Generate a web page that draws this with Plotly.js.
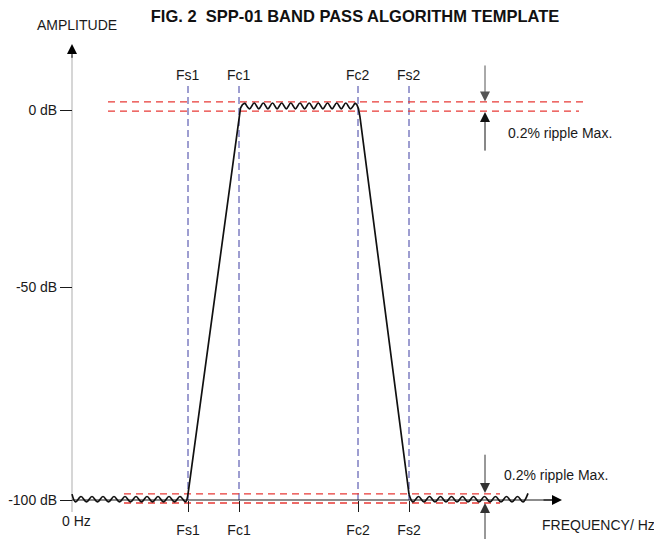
<!DOCTYPE html>
<html>
<head>
<meta charset="utf-8">
<script src="https://cdn.plot.ly/plotly-3.0.1.min.js"></script>
<style>html,body{margin:0;padding:0;background:#fff;}#chart{width:654px;height:539px;}</style>
</head>
<body>
<div id="chart"></div>
<script>
// ---- Data (schematic frequency units, amplitude in dB) ----
const fLabels = ['Fs1', 'Fc1', 'Fc2', 'Fs2'];
const fValues = [11.6, 16.7, 28.6, 33.7];
const yTickPos = [0, -45.4, -100];
const yTickText = ['0 dB', '-50 dB', '-100 dB'];

// pass-band / stop-band tolerance (ripple) limits
const passUpper = 2.1, passLower = -0.3;
const stopUpper = -98.45, stopLower = -100.77;

// response curve pieces
const stopLeftX = [0.0, 0.35, 0.9, 1.45, 2.0, 2.55, 3.1, 3.65, 4.2, 4.75, 5.3, 5.85, 6.4, 6.95, 7.5, 8.05, 8.6, 9.15, 9.7, 10.25, 10.8, 11.35, 11.6];
const stopLeftY = [-98.5, -100.5, -99.1, -100.5, -99.1, -100.5, -99.1, -100.5, -99.1, -100.5, -99.1, -100.5, -99.1, -100.5, -99.1, -100.5, -99.1, -100.5, -99.1, -100.5, -99.1, -100.5, -98.5];

const riseX = [11.6, 16.7, 16.85, 17.05, 17.3];
const riseY = [-98.5, -1.5, 0.5, 1.4, 1.8];

const passX = [17.30, 17.76, 18.22, 18.68, 19.13, 19.59, 20.05, 20.51, 20.97, 21.43, 21.88, 22.34, 22.80, 23.26, 23.72, 24.18, 24.63, 25.09, 25.55, 26.01, 26.47, 26.93, 27.38, 27.84, 28.30];
const passY = [1.8, 0.3, 1.8, 0.3, 1.8, 0.3, 1.8, 0.3, 1.8, 0.3, 1.8, 0.3, 1.8, 0.3, 1.8, 0.3, 1.8, 0.3, 1.8, 0.3, 1.8, 0.3, 1.8, 0.3, 1.8];

const fallX = [28.3, 28.5, 28.65, 28.8, 33.7];
const fallY = [1.8, 1.3, 0.3, -1.8, -98.5];

const stopRightX = [33.7, 34.1, 34.65, 35.2, 35.75, 36.3, 36.85, 37.4, 37.95, 38.5, 39.05, 39.6, 40.15, 40.7, 41.25, 41.8, 42.35, 42.9, 43.45, 44.0, 44.55, 45.1, 45.6];
const stopRightY = [-98.5, -100.5, -99.1, -100.5, -99.1, -100.5, -99.1, -100.5, -99.1, -100.5, -99.1, -100.5, -99.1, -100.5, -99.1, -100.5, -99.1, -100.5, -99.1, -100.5, -99.1, -100.5, -98.3];

const title = 'FIG. 2\u00a0 SPP-01 BAND PASS ALGORITHM TEMPLATE';
const rippleText = '0.2% ripple Max.';

// ---- Drawing ----
const FONT = 'Liberation Sans, Arial, sans-serif';
const INK = '#1a1a1a';
const RED = '#e83a36';
const BLUE = '#3c3ca2';

function curve(x, y, shape) {
  return {x: x, y: y, type: 'scatter', mode: 'lines', hoverinfo: 'skip',
    line: {color: '#111', width: 1.7, shape: shape}};
}

const traces = [
  // y axis line (light grey) and x axis line
  {x: [0, 0], y: [-103.1, 14.0], type: 'scatter', mode: 'lines', hoverinfo: 'skip', line: {color: '#d6d6d6', width: 2}},
  {x: [0, 48], y: [-100, -100], type: 'scatter', mode: 'lines', hoverinfo: 'skip', line: {color: INK, width: 1.2}},
  curve(stopLeftX, stopLeftY, 'spline'),
  curve(riseX, riseY, 'linear'),
  curve(passX, passY, 'spline'),
  curve(fallX, fallY, 'linear'),
  curve(stopRightX, stopRightY, 'spline')
];

const shapes = [];
fValues.forEach(function (f) {
  shapes.push({type: 'line', xref: 'x', yref: 'y', x0: f, x1: f, y0: -100, y1: 6.4, layer: 'below',
    line: {color: BLUE, width: 1, dash: '7px,4px'}});
});
[passUpper, passLower].forEach(function (v, i) {
  shapes.push({type: 'line', xref: 'x', yref: 'y', x0: 3.6, x1: i === 0 ? 51.1 : 50.7, y0: v, y1: v, layer: 'below',
    line: {color: RED, width: 1.3, dash: '7px,5px'}});
});
[stopUpper, stopLower].forEach(function (v) {
  shapes.push({type: 'line', xref: 'x', yref: 'y', x0: 5.2, x1: 42.8, y0: v, y1: v, layer: 'below',
    line: {color: RED, width: 1.3, dash: '7px,5px'}});
});

function arrow(x, y, ax, ay, color) {
  return {xref: 'x', yref: 'y', axref: 'x', ayref: 'y', x: x, y: y, ax: ax, ay: ay, text: '',
    showarrow: true, arrowhead: 2, arrowsize: 2, arrowwidth: 1, arrowcolor: color};
}
function label(text, x, y, xanchor, size) {
  return {xref: 'x', yref: 'y', x: x, y: y, text: text, showarrow: false, xanchor: xanchor, yanchor: 'middle',
    font: {family: FONT, size: size || 14, color: INK}};
}

const annotations = [
  // axis arrow heads
  arrow(0, 16.9, 0, 13.0, '#000'),
  arrow(49.0, -100, 47.0, -100, '#000'),
  // ripple arrows (pass band)
  arrow(41.3, 2.18, 41.3, 11.8, '#555'),
  arrow(41.3, -0.51, 41.3, -10.8, '#111'),
  // ripple arrows (stop band)
  arrow(41.3, -98.2, 41.3, -88.0, '#333'),
  arrow(41.3, -100.77, 41.3, -110.5, '#333'),
  label(rippleText, 43.4, -5.9, 'left'),
  label(rippleText, 43.0, -93.6, 'left'),
  label('AMPLITUDE', 0.45, 21.8, 'center'),
  label('FREQUENCY/ Hz', 46.8, -106.4, 'left'),
  label('0 Hz', -1.2, -105.4, 'left')
];
fValues.forEach(function (f, i) {
  annotations.push(label(fLabels[i], f, 8.97, 'center'));
});

const layout = {
  width: 654, height: 539,
  margin: {l: 0, r: 0, t: 0, b: 0},
  paper_bgcolor: '#fff', plot_bgcolor: '#fff',
  showlegend: false, hovermode: false,
  font: {family: FONT, color: INK, size: 14},
  title: {text: '<b>' + title + '</b>', font: {family: FONT, size: 16.5, color: '#111'},
    x: 355 / 654, xanchor: 'center', y: 1 - 16 / 539, yanchor: 'middle'},
  xaxis: {range: [-7.2, 58.2], anchor: 'free', position: 39 / 539, showgrid: false, zeroline: false, showline: false,
    ticks: 'outside', ticklen: 11, tickwidth: 1, tickcolor: INK,
    tickvals: fValues, ticktext: fLabels, ticklabelstandoff: 6, tickfont: {family: FONT, size: 14, color: INK}, fixedrange: true},
  yaxis: {range: [-110.0, 28.205], anchor: 'free', position: 72 / 654, showgrid: false, zeroline: false, showline: false,
    ticks: 'outside', ticklen: 12, tickwidth: 1, tickcolor: INK,
    tickvals: yTickPos, ticktext: yTickText, tickfont: {family: FONT, size: 14, color: INK}, fixedrange: true},
  shapes: shapes,
  annotations: annotations
};

Plotly.newPlot('chart', traces, layout, {displayModeBar: false, staticPlot: true});
</script>
</body>
</html>
